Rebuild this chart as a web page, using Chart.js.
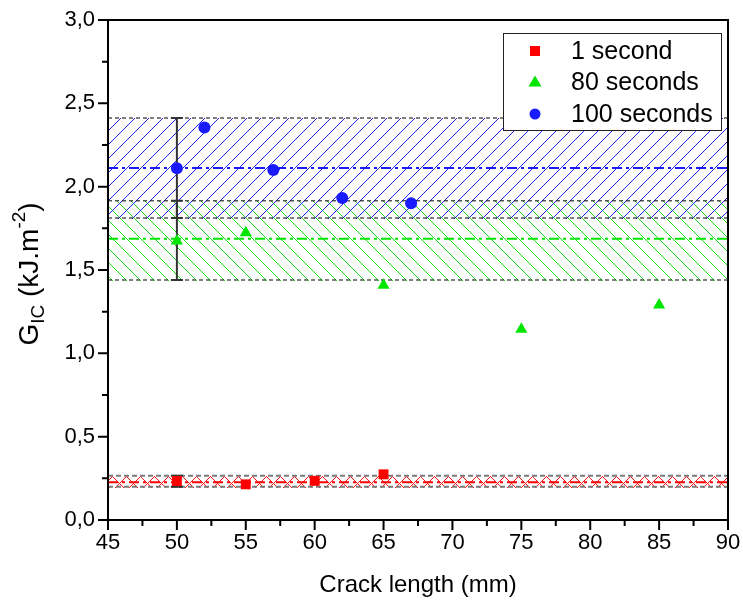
<!DOCTYPE html>
<html lang="en">
<head>
<meta charset="UTF-8">
<title>GIC x crack length</title>
<script src="https://cdn.jsdelivr.net/npm/chart.js@4"></script>
<style>
    body { margin: 0; background: #fff; }
    #wrap { width: 743px; height: 612px; }
</style>
</head>
<body>
<div id="wrap"><canvas id="grafico" width="743" height="612"></canvas></div>

<script>
    // pontos medidos (comprimento da trinca em mm, GIC em kJ/m2)
    var xs1 = [50, 55, 60, 65];
    var gic1 = [0.234, 0.214, 0.235, 0.274];
    var xs80 = [50, 55, 65, 75, 85];
    var gic80 = [1.674, 1.723, 1.408, 1.145, 1.29];
    var xs100 = [50, 52, 57, 62, 67];
    var gic100 = [2.11, 2.355, 2.10, 1.932, 1.90];

    // media e faixa (media +- desvio) de cada serie: 1 s, 80 s, 100 s
    var medias = [0.226, 1.687, 2.112];
    var faixaMin = [0.20, 1.44, 1.812];
    var faixaMax = [0.265, 1.915, 2.412];
    var xErro = 50;

    var nomes = ['1 second', '80 seconds', '100 seconds'];
    var cores = ['#ff0000', '#00e600', '#1a1aff'];
    var coresHachura = ['#ff1010', '#18e018', '#2020f0'];
    var tiposHachura = ['x', '\\', '/'];
    var simbolos = ['rect', 'triangle', 'circle'];

    var xTicks = [45, 50, 55, 60, 65, 70, 75, 80, 85, 90];
    var yTicks = [0, 0.5, 1.0, 1.5, 2.0, 2.5, 3.0];

    var fonte = "'Liberation Sans', Arial, sans-serif";
    Chart.defaults.font.family = fonte;
    Chart.defaults.color = '#000';

    function pontos(xs, ys) {
        var r = [];
        for (var i = 0; i < xs.length; i++) r.push({ x: xs[i], y: ys[i] });
        return r;
    }
    function horizontal(v) {
        return [{ x: xTicks[0], y: v }, { x: xTicks[xTicks.length - 1], y: v }];
    }

    var datasets = [];
    var series = [[xs1, gic1], [xs80, gic80], [xs100, gic100]];
    var raios = [7, 7, 6];
    for (var i = 0; i < 3; i++) {
        datasets.push({
            label: nomes[i],
            data: pontos(series[i][0], series[i][1]),
            pointStyle: simbolos[i],
            pointRadius: raios[i],
            pointHoverRadius: raios[i],
            backgroundColor: cores[i],
            borderColor: cores[i],
            borderWidth: 0,
            showLine: false
        });
    }
    // linhas da media (traco-ponto)
    for (var i = 0; i < 3; i++) {
        datasets.push({
            label: 'media ' + nomes[i],
            data: horizontal(medias[i]),
            showLine: true,
            borderColor: cores[i],
            borderWidth: 2,
            borderDash: [10, 4, 3, 4],
            pointRadius: 0,
            fill: false
        });
    }
    // bordas tracejadas das faixas
    for (var i = 0; i < 3; i++) {
        var corBorda = i == 0 ? '#7a7a7a' : '#000';
        var largura = i == 0 ? 2 : 1;
        var tracos = i == 0 ? [5, 3] : [4, 3];
        datasets.push({
            label: 'max ' + nomes[i],
            data: horizontal(faixaMax[i]),
            showLine: true,
            borderColor: corBorda,
            borderWidth: largura,
            borderDash: tracos,
            pointRadius: 0,
            fill: false
        });
        datasets.push({
            label: 'min ' + nomes[i],
            data: horizontal(faixaMin[i]),
            showLine: true,
            borderColor: corBorda,
            borderWidth: largura,
            borderDash: tracos,
            pointRadius: 0,
            fill: false
        });
    }

    // hachura entre min e max de cada serie, pixel a pixel (sem antialias)
    var hachuras = {
        id: 'hachuras',
        beforeDatasetsDraw: function (chart) {
            var c = chart.ctx;
            var sx = chart.scales.x, sy = chart.scales.y;
            var esp = 14;
            var x0 = Math.round(sx.getPixelForValue(xTicks[0]));
            var x1 = Math.round(sx.getPixelForValue(xTicks[xTicks.length - 1]));
            c.save();
            for (var i = 0; i < 3; i++) {
                var yt = Math.round(sy.getPixelForValue(faixaMax[i]));
                var yb = Math.round(sy.getPixelForValue(faixaMin[i]));
                var t = tiposHachura[i];
                c.fillStyle = coresHachura[i];
                for (var y = yt; y <= yb; y++) {
                    for (var x = x0; x < x1; x++) {
                        var a = ((x + y) % esp + esp) % esp == 0;
                        var b = ((x - y) % esp + esp) % esp == 0;
                        if ((t == '/' && a) || (t == '\\' && b) || (t == 'x' && (a || b))) {
                            c.fillRect(x, y, 1, 1);
                        }
                    }
                }
            }
            c.restore();
        }
    };

    // barras de erro em x = 50, desenhadas antes dos simbolos
    var barrasErro = {
        id: 'barrasErro',
        beforeDatasetDraw: function (chart, args) {
            if (args.index != 2) return;
            var c = chart.ctx, sx = chart.scales.x, sy = chart.scales.y;
            var px = sx.getPixelForValue(xErro);
            c.save();
            c.strokeStyle = '#333';
            c.lineWidth = 2;
            for (var i = 0; i < 3; i++) {
                var y1 = sy.getPixelForValue(faixaMin[i]);
                var y2 = sy.getPixelForValue(faixaMax[i]);
                c.beginPath();
                c.moveTo(px, y1); c.lineTo(px, y2);
                c.moveTo(px - 6, y1); c.lineTo(px + 6, y1);
                c.moveTo(px - 6, y2); c.lineTo(px + 6, y2);
                c.stroke();
            }
            c.restore();
        }
    };

    // moldura, tracinhos maiores/menores, titulos e legenda
    var moldura = {
        id: 'moldura',
        afterDraw: function (chart) {
            var c = chart.ctx, a = chart.chartArea;
            var sx = chart.scales.x, sy = chart.scales.y;
            c.save();
            c.strokeStyle = '#000';
            c.lineWidth = 2;
            c.strokeRect(a.left, a.top, a.right - a.left, a.bottom - a.top);

            c.beginPath();
            for (var i = 0; i < xTicks.length; i++) {
                var px = sx.getPixelForValue(xTicks[i]);
                c.moveTo(px, a.bottom); c.lineTo(px, a.bottom + 10);
                if (i < xTicks.length - 1) {
                    var pm = sx.getPixelForValue((xTicks[i] + xTicks[i + 1]) / 2);
                    c.moveTo(pm, a.bottom); c.lineTo(pm, a.bottom + 6);
                }
            }
            for (var i = 0; i < yTicks.length; i++) {
                var py = sy.getPixelForValue(yTicks[i]);
                c.moveTo(a.left, py); c.lineTo(a.left - 10, py);
                if (i < yTicks.length - 1) {
                    var pm = sy.getPixelForValue((yTicks[i] + yTicks[i + 1]) / 2);
                    c.moveTo(a.left, pm); c.lineTo(a.left - 6, pm);
                }
            }
            c.stroke();

            // titulo do eixo x
            c.fillStyle = '#000';
            c.font = '24px ' + fonte;
            c.textAlign = 'center';
            c.textBaseline = 'alphabetic';
            c.fillText('Crack length (mm)', (a.left + a.right) / 2, 592);

            // titulo do eixo y com subscrito e sobrescrito
            var partes = [
                { t: 'G', f: 28, dy: 0 },
                { t: 'IC', f: 19, dy: 6 },
                { t: ' (kJ.m', f: 28, dy: 0 },
                { t: '-2', f: 19, dy: -13 },
                { t: ')', f: 28, dy: 0 }
            ];
            var total = 0;
            for (var i = 0; i < partes.length; i++) {
                c.font = partes[i].f + 'px ' + fonte;
                partes[i].w = c.measureText(partes[i].t).width;
                total += partes[i].w;
            }
            c.translate(38, (a.top + a.bottom) / 2 + 4);
            c.rotate(-Math.PI / 2);
            c.textAlign = 'left';
            var pos = -total / 2;
            for (var i = 0; i < partes.length; i++) {
                c.font = partes[i].f + 'px ' + fonte;
                c.fillText(partes[i].t, pos, partes[i].dy);
                pos += partes[i].w;
            }
            c.setTransform(1, 0, 0, 1, 0, 0);

            // legenda
            var lx = a.right - 225, ly = a.top + 13, lw = 218, lh = 97;
            c.fillStyle = '#fff';
            c.fillRect(lx, ly, lw, lh);
            c.strokeStyle = '#222';
            c.lineWidth = 1;
            c.strokeRect(lx + 0.5, ly + 0.5, lw, lh);
            c.font = '25px ' + fonte;
            c.textBaseline = 'middle';
            for (var i = 0; i < 3; i++) {
                var ds = chart.data.datasets[i];
                var cy = ly + 18 + i * 31.5, cx = lx + 32;
                c.fillStyle = ds.backgroundColor;
                c.beginPath();
                if (ds.pointStyle == 'rect') {
                    c.rect(cx - 5, cy - 5, 10, 10);
                } else if (ds.pointStyle == 'triangle') {
                    c.moveTo(cx, cy - 7); c.lineTo(cx + 6.5, cy + 4); c.lineTo(cx - 6.5, cy + 4); c.closePath();
                } else {
                    c.arc(cx, cy, 5.5, 0, Math.PI * 2);
                }
                c.fill();
                c.fillStyle = '#000';
                c.fillText(ds.label, lx + 68, cy + 1);
            }
            c.restore();
        }
    };

    new Chart(document.getElementById('grafico').getContext('2d'), {
        type: 'scatter',
        data: { datasets: datasets },
        options: {
            responsive: false,
            animation: false,
            layout: { padding: { top: 20, right: 15, left: 0, bottom: 0 } },
            plugins: {
                legend: { display: false },
                tooltip: { enabled: false }
            },
            scales: {
                x: {
                    type: 'linear',
                    min: 45,
                    max: 90,
                    afterBuildTicks: function (s) { s.ticks = xTicks.map(function (v) { return { value: v }; }); },
                    afterFit: function (s) { s.height = 92; s.paddingLeft = 0; s.paddingRight = 0; },
                    grid: { display: false, drawTicks: false },
                    border: { display: true, color: '#000', width: 2 },
                    ticks: { font: { size: 22 }, color: '#000', padding: 10, maxRotation: 0 }
                },
                y: {
                    type: 'linear',
                    min: 0,
                    max: 3,
                    afterBuildTicks: function (s) { s.ticks = yTicks.map(function (v) { return { value: v }; }); },
                    afterFit: function (s) { s.width = 108; s.paddingTop = 0; s.paddingBottom = 0; },
                    grid: { display: false, drawTicks: false },
                    border: { display: true, color: '#000', width: 2 },
                    ticks: {
                        font: { size: 22 }, color: '#000', padding: 13,
                        callback: function (v) { return v.toFixed(1).replace('.', ','); }
                    }
                }
            }
        },
        plugins: [hachuras, barrasErro, moldura]
    });
</script>
</body>
</html>
